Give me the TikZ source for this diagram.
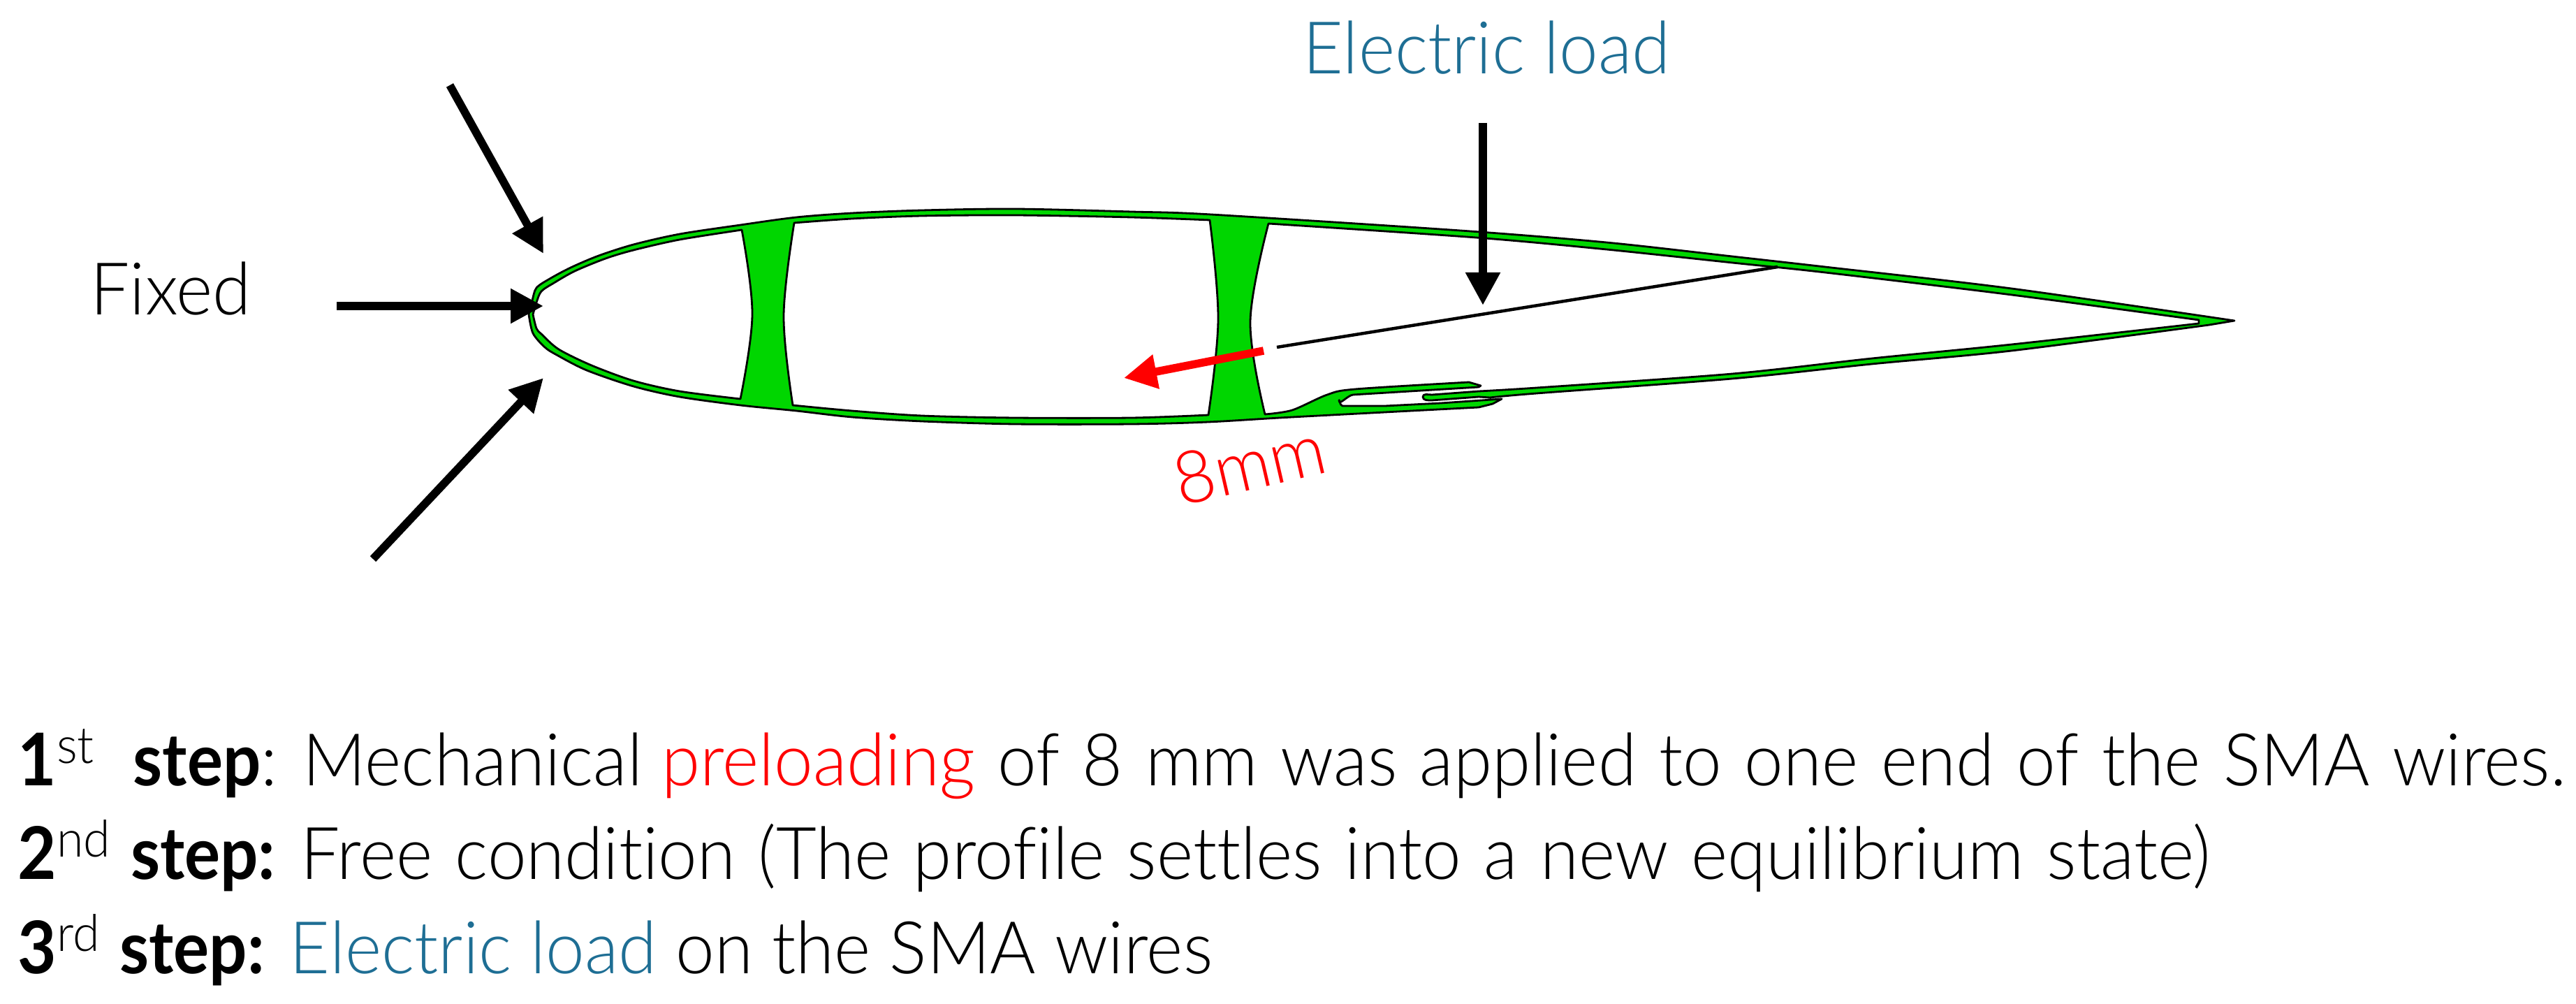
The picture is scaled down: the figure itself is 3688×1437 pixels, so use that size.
\documentclass[tikz,border=0pt]{standalone}
\usepackage{fontspec}
\setmainfont{Lato Light}[BoldFont=Lato Bold, BoldFeatures={FakeStretch=0.92}, FakeStretch=0.96, Ligatures=NoCommon]
\usetikzlibrary{
		positioning,
		arrows.meta
	}
\definecolor{wallgreen}{RGB}{0,214,0}
\definecolor{loadblue}{RGB}{30,110,148}
\definecolor{prered}{RGB}{255,0,0}
\newcommand{\bigsize}{\fontsize{29.6}{30}\selectfont}
\newcommand{\widewords}{\spaceskip=1.2\fontdimen2\font}

\begin{document}
\begin{tikzpicture}[x=0.1mm, y=-0.1mm,
		wall/.style={draw=black, line width=0.28mm, fill=wallgreen, line join=round},
		cell/.style={draw=black, line width=0.28mm, fill=white, line join=round},
		pusharrow/.style={line width=1.15mm, -{Triangle[length=4.7mm, width=4.7mm]}},
		wire/.style={line width=0.45mm, black},
		caption/.style={anchor=base west, inner sep=0pt, font=\bigsize},
		callout/.style={anchor=base west, inner sep=0pt, font=\bigsize}]
	\useasboundingbox (0,0) rectangle (3688,1437);
	% profile: outer skin, trailing cell and slot are one outline
	\draw[wall] plot[smooth, tension=0.5] coordinates {(757,450) (762,430) (768,412) (787,399) (817,383) (857,366) (907,350) (973,335) (1060,322) (1140,311) (1220,305) (1320,301) (1453,299) (1620,303) (1734,307) (2091,330) (2300,347) (2480,367) (2613,382) (2880,413) (3199,459)}
		-- plot[smooth, tension=0.5] coordinates {(3163,465) (2880,502) (2680,521) (2480,542) (2200,563) (2133,569)}
		-- (2117,568) -- (2050,573)
		to[out=180, in=270] (2037,568)
		to[out=90, in=180] (2050,565)
		-- (2117,560) -- plot[smooth, tension=0.5] coordinates {(2117,560) (2200,555) (2480,535) (2680,513) (2880,493) (3148,463)}
		-- (3148,458) -- plot[smooth, tension=0.5] coordinates {(3148,458) (2880,422) (2613,390) (2480,376) (2300,357) (2113,340) (1816,320)}
		-- plot[smooth, tension=0.6] coordinates {(1816,320) (1790,460) (1811,593)}
		-- plot[smooth, tension=0.5] coordinates {(1811,593) (1850,587) (1900,565) (1940,557) (2103,547)}
		-- (2120,552) -- (2117,554) -- (1937,565)
		to[out=188, in=270] (1917,573)
		to[out=90, in=180] (1922,581)
		-- (1983,581) -- (2063,577) -- (2150,571) -- (2137,578) -- (2117,583)
		-- plot[smooth, tension=0.5] coordinates {(2117,583) (1850,597) (1730,604) (1620,607) (1453,607) (1320,603) (1220,597) (1140,588) (1060,580) (973,568) (907,553) (840,530) (797,508) (780,497) (763,477) (757,450)}
		-- cycle;
	\draw[cell] plot[smooth, tension=0.5] coordinates {(763,450) (768,433) (775,417) (793,405) (823,388) (867,370) (907,358) (973,343) (1062,329)}
		-- plot[smooth, tension=0.6] coordinates {(1062,329) (1077,450) (1060,571)}
		-- plot[smooth, tension=0.5] coordinates {(1060,571) (973,560) (907,545) (847,523) (800,500) (775,478) (768,470) (763,450)}
		-- cycle;
	\draw[cell] plot[smooth, tension=0.6] coordinates {(1137,319) (1122,452) (1135,580)}
		-- plot[smooth, tension=0.5] coordinates {(1135,580) (1220,588) (1320,595) (1453,598) (1620,598) (1730,594)}
		-- plot[smooth, tension=0.6] coordinates {(1730,594) (1744,457) (1732,315)}
		-- plot[smooth, tension=0.5] coordinates {(1732,315) (1620,311) (1453,308) (1320,309) (1220,313) (1137,319)}
		-- cycle;
	% wire and arrows
	\coordinate (wireA) at (1828,497);
	\coordinate (wireB) at (2545,382);
	\draw[wire] (wireA) -- (wireB);
	\coordinate (pullA) at (1809,502);
	\coordinate (pullB) at (1609,541);
	\draw[pusharrow, prered] (pullA) -- (pullB);
	\coordinate (loadA) at (2123,176);
	\coordinate (loadB) at (2123,437);
	\draw[pusharrow] (loadA) -- (loadB);
	\coordinate (fixTopA) at (644,122);
	\coordinate (fixTopB) at (778,363);
	\draw[pusharrow] (fixTopA) -- (fixTopB);
	\coordinate (fixMidA) at (482,438);
	\coordinate (fixMidB) at (778,438);
	\draw[pusharrow] (fixMidA) -- (fixMidB);
	\coordinate (fixLowA) at (534,800);
	\coordinate (fixLowB) at (778,541);
	\draw[pusharrow] (fixLowA) -- (fixLowB);
	% labels
	\node[callout] (fixed) at (129,451) {Fixed};
	\node[callout, loadblue] (electric) at (1865,106) {Electric load};
	\node[callout, prered, rotate=13] (pull) at (1690,725) {8mm};
	\node[caption] (step1) at (25,1124) {\textbf{1}\textsuperscript{st}\ \ \textbf{step}: Mechanical \textcolor{prered}{preloading}\widewords{} of 8 mm was applied to one end of the SMA wires.};
	\node[caption] (step2) at (25,1258) {\textbf{2}\textsuperscript{nd} \textbf{step:} Free\widewords{} condition (The profile settles into a new equilibrium state)};
	\node[caption] (step3) at (25,1393) {\textbf{3}\textsuperscript{rd} \textbf{step:} \textcolor{loadblue}{Electric load} on the SMA wires};
\end{tikzpicture}
\end{document}
